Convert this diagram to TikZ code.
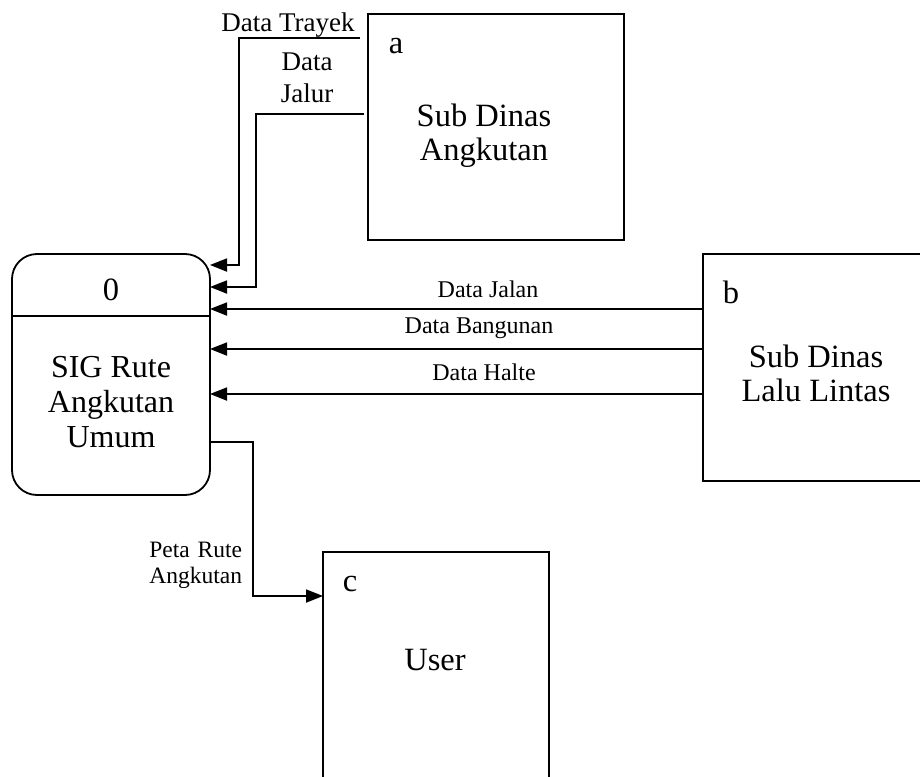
\documentclass[tikz,border=0pt]{standalone}
\usepackage{fontspec}
\setmainfont{Liberation Serif}
\usetikzlibrary{arrows.meta}
\begin{document}
\begin{tikzpicture}[x=1pt,y=-1pt,line width=1.8pt,
  ext/.style={draw,rectangle,inner sep=0pt,outer sep=0pt},
  arr/.style={-{Triangle[length=17pt,width=13pt]},line width=1.8pt},
  big/.style={font=\fontsize{32.5}{34}\selectfont,inner sep=0pt,align=center},
  lblA/.style={font=\fontsize{27}{32}\selectfont,inner sep=0pt,align=center},
  lblB/.style={font=\fontsize{24}{28}\selectfont,inner sep=0pt,align=center},
  lblC/.style={font=\fontsize{23.5}{26}\selectfont,inner sep=0pt,align=right}]
\useasboundingbox (0,0) rectangle (920,776);
\clip (0,0) rectangle (920,776);
% entities
\node[ext,minimum width=256pt,minimum height=226pt] (a) at (496,127) {};
\node[ext,minimum width=257pt,minimum height=227pt] (b) at (831.5,367.5) {};
\node[ext,minimum width=226pt,minimum height=268pt] (c) at (436,686) {};
% process
\node[draw,rectangle,rounded corners=25pt,inner sep=0pt,outer sep=0pt,
  minimum width=198pt,minimum height=241pt] (proc) at (111,374.5) {};
\draw (proc.west |- 0,316) -- (proc.east |- 0,316);
% entity texts
\node[big] (la) at (396,46) {a};
\node[big] (ta) at (484,136) {Sub Dinas\\Angkutan};
\node[big] (lb) at (731,292) {b};
\node[big] (tb) at (816,373) {Sub Dinas\\Lalu Lintas};
\node[big] (lc) at (350,584) {c};
\node[big] (tc) at (435,660) {User};
\node[big] (p0) at (111,290) {0};
\node[big,font=\fontsize{32}{35}\selectfont] (pt) at (111,402) {SIG Rute\\Angkutan\\Umum};
% flows
\coordinate (trs) at (360,38);
\coordinate (jls) at (364,114);
\draw[arr] (trs) -| (239,265) -- (proc.east |- 0,265);
\draw[arr] (jls) -| (256,287) -- (proc.east |- 0,287);
\draw[arr] (b.west |- 0,309) -- (proc.east |- 0,309);
\draw[arr] (b.west |- 0,349) -- (proc.east |- 0,349);
\draw[arr] (b.west |- 0,394) -- (proc.east |- 0,394);
\draw[arr] (proc.east |- 0,442) -| (253,596) -- (c.west |- 0,596);
% flow labels
\node[lblA] (l1) at (288,25) {Data Trayek};
\node[lblA] (l2) at (307,78) {Data\\Jalur};
\node[lblB] (l3) at (488,289) {Data Jalan};
\node[lblB] (l4) at (479,328) {Data Bangunan};
\node[lblB] (l5) at (484,372) {Data Halte};
\node[lblC,anchor=east] (l6) at (243,565) {Peta\hspace{2pt} Rute\\Angkutan};
\end{tikzpicture}
\end{document}
